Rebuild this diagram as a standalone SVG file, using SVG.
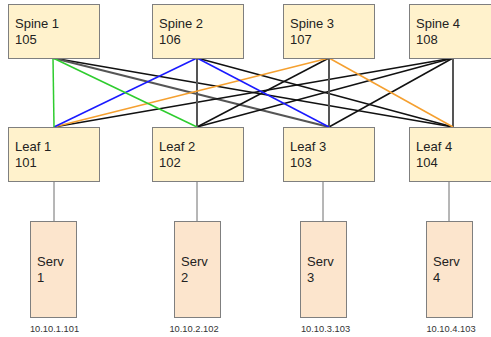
<svg xmlns="http://www.w3.org/2000/svg" width="491" height="337" viewBox="0 0 491 337">
  <style>
    .sw { fill: #fff2cc; stroke: #7f7f7f; stroke-width: 1; }
    .srv { fill: #fce5cd; stroke: #7f7f7f; stroke-width: 1; }
    .lbl { font-family: "Liberation Sans", Arial, sans-serif; font-size: 13px; fill: #222; }
    .ip { font-family: "Liberation Sans", Arial, sans-serif; font-size: 9.3px; fill: #333; text-anchor: middle; }
    .ln { fill: none; stroke-width: 1.5; }
    .k { stroke: #111; }
    .g { stroke: #555; stroke-width: 2; }
    .gr { stroke: #2ecc2e; }
    .bl { stroke: #1a1aff; }
    .or { stroke: #f5a030; }
    .up { stroke: #6f6f6f; stroke-width: 1; }
  </style>

  <!-- uplinks: leaf to server -->
  <g id="server-links">
    <line class="up" x1="54" y1="181" x2="54" y2="221"/>
    <line class="up" x1="197" y1="181" x2="197" y2="221"/>
    <line class="up" x1="323" y1="181" x2="323" y2="221"/>
    <line class="up" x1="449" y1="181" x2="449" y2="221"/>
  </g>

  <!-- fabric links: spine to leaf -->
  <g id="fabric-links" class="ln">
    <line class="k" x1="53" y1="58" x2="453" y2="127"/>
    <line class="g" x1="53" y1="58" x2="329" y2="127"/>
    <line class="k" x1="197" y1="58" x2="453" y2="127"/>
    <line class="k" x1="453" y1="58" x2="54" y2="127"/>
    <line class="k" x1="453" y1="58" x2="197" y2="127"/>
    <line class="k" x1="453" y1="58" x2="329" y2="127"/>
    <line class="g" x1="453" y1="58" x2="453" y2="127"/>
    <line class="k" x1="329" y1="58" x2="197" y2="127"/>
    <line class="g" x1="329" y1="58" x2="329" y2="127"/>
    <line class="g" x1="197" y1="58" x2="197" y2="127"/>
    <line class="or" x1="329" y1="58" x2="54" y2="127"/>
    <line class="or" x1="329" y1="58" x2="453" y2="127"/>
    <line class="bl" x1="197" y1="58" x2="54" y2="127"/>
    <line class="bl" x1="197" y1="58" x2="329" y2="127"/>
    <line class="gr" x1="53" y1="58" x2="54" y2="127"/>
    <line class="gr" x1="53" y1="58" x2="197" y2="127"/>
  </g>

  <g id="spine1"><rect class="sw" x="8.5" y="4.5" width="91" height="54"/><text class="lbl" x="15" y="28">Spine 1</text><text class="lbl" x="15" y="44">105</text></g>
  <g id="spine2"><rect class="sw" x="152.5" y="4.5" width="91" height="54"/><text class="lbl" x="159" y="28">Spine 2</text><text class="lbl" x="159" y="44">106</text></g>
  <g id="spine3"><rect class="sw" x="283.5" y="4.5" width="91" height="54"/><text class="lbl" x="290" y="28">Spine 3</text><text class="lbl" x="290" y="44">107</text></g>
  <g id="spine4"><rect class="sw" x="409.5" y="4.5" width="91" height="54"/><text class="lbl" x="416" y="28">Spine 4</text><text class="lbl" x="416" y="44">108</text></g>

  <g id="leaf1"><rect class="sw" x="8.5" y="127.5" width="91" height="54"/><text class="lbl" x="15" y="151">Leaf 1</text><text class="lbl" x="15" y="167">101</text></g>
  <g id="leaf2"><rect class="sw" x="152.5" y="127.5" width="91" height="54"/><text class="lbl" x="159" y="151">Leaf 2</text><text class="lbl" x="159" y="167">102</text></g>
  <g id="leaf3"><rect class="sw" x="283.5" y="127.5" width="91" height="54"/><text class="lbl" x="290" y="151">Leaf 3</text><text class="lbl" x="290" y="167">103</text></g>
  <g id="leaf4"><rect class="sw" x="409.5" y="127.5" width="91" height="54"/><text class="lbl" x="416" y="151">Leaf 4</text><text class="lbl" x="416" y="167">104</text></g>

  <g id="serv1"><rect class="srv" x="30.5" y="221.5" width="46" height="96"/><text class="lbl" x="37" y="266">Serv</text><text class="lbl" x="37" y="282">1</text><text class="ip" x="54.5" y="332">10.10.1.101</text></g>
  <g id="serv2"><rect class="srv" x="174.5" y="221.5" width="46" height="96"/><text class="lbl" x="181" y="266">Serv</text><text class="lbl" x="181" y="282">2</text><text class="ip" x="194" y="332">10.10.2.102</text></g>
  <g id="serv3"><rect class="srv" x="300.5" y="221.5" width="46" height="96"/><text class="lbl" x="307" y="266">Serv</text><text class="lbl" x="307" y="282">3</text><text class="ip" x="325.5" y="332">10.10.3.103</text></g>
  <g id="serv4"><rect class="srv" x="426.5" y="221.5" width="46" height="96"/><text class="lbl" x="433" y="266">Serv</text><text class="lbl" x="433" y="282">4</text><text class="ip" x="451" y="332">10.10.4.103</text></g>
</svg>
